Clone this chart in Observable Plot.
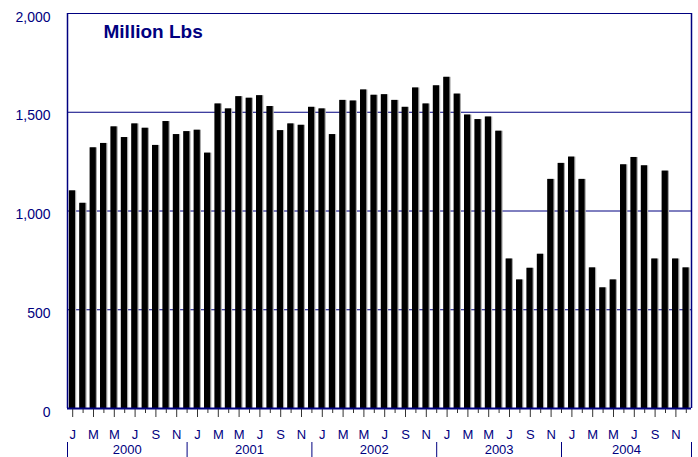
<!DOCTYPE html>
<html><head><meta charset="utf-8">
<script src="https://cdn.jsdelivr.net/npm/d3@7"></script>
<script src="https://cdn.jsdelivr.net/npm/@observablehq/plot@0.6"></script>
<style>body{margin:0;background:#fff}</style>
</head><body><div id="chart"></div>
<script>
const years = ["2000","2001","2002","2003","2004"];
const monthLetters = ["J","F","M","A","M","J","J","A","S","O","N","D"];
const values2000 = [1102,1039,1320,1342,1426,1372,1441,1419,1332,1453,1387,1402];
const values2001 = [1409,1293,1542,1517,1579,1571,1584,1529,1407,1441,1434,1525];
const values2002 = [1517,1387,1560,1557,1613,1586,1589,1560,1525,1623,1542,1634];
const values2003 = [1677,1592,1486,1463,1476,1404,757,651,710,781,1160,1241];
const values2004 = [1273,1160,712,611,651,1234,1271,1229,757,1202,757,712];
const yTicks = [0,500,1000,1500,2000];
const gridValues = [500,1000,1500];
const title = "Million Lbs";

const seriesByYear = [values2000, values2001, values2002, values2003, values2004];
const data = [];
seriesByYear.forEach((vals, yi) => vals.forEach((v, m) => data.push({i: yi*12+m, value: v, month: monthLetters[m], year: years[yi]})));
const n = data.length;
// year separators: outer edges and the centre of each December bar
const seps = [0, ...years.slice(1).map((_, k) => (k+1)*12 - 0.5), n];
const yearLabels = years.map((y, k) => ({year: y, x: (seps[k] + seps[k+1]) / 2}));

const navy = "#000080";
const plotH = 457 - 13 - 49;

const chart = Plot.plot({
  width: 698, height: 457,
  marginLeft: 67, marginRight: 7, marginTop: 13, marginBottom: 49,
  style: {fontFamily: "'Liberation Sans', Arial, sans-serif", background: "#fff"},
  x: {type: "linear", domain: [0, n], axis: null},
  y: {domain: [0, 2000], axis: null},
  marks: [
    Plot.ruleY(gridValues, {stroke: navy, strokeWidth: 1}),
    Plot.rectY(data, {x1: "i", x2: d => d.i + 1, y: "value", fill: "#a8a8a8", insetLeft: 2.4, insetRight: 1.2}),
    Plot.rectY(data, {x1: "i", x2: d => d.i + 1, y: "value", fill: "#000", insetLeft: 1.8, insetRight: 2.4}),
    Plot.ruleY([2000], {stroke: navy, strokeWidth: 1.2}),
    Plot.ruleX([0, n], {y1: 0, y2: 2000, stroke: navy, strokeWidth: 1.5}),
    Plot.ruleY([0], {stroke: navy, strokeWidth: 2}),
    // y tick labels
    Plot.text(yTicks, {x: 0, y: d => d, text: d => d3.format(",")(d), textAnchor: "end", lineAnchor: "bottom", dx: -17, dy: 8, fontSize: 14, fill: navy}),
    // x ticks (long at labeled months, short otherwise)
    Plot.ruleX(data.filter(d => d.i % 2 === 0), {x: d => d.i + 0.5, stroke: "#333", strokeWidth: 1, insetTop: plotH + 1, insetBottom: -9}),
    Plot.ruleX(data.filter(d => d.i % 2 === 1), {x: d => d.i + 0.5, stroke: "#333", strokeWidth: 1, insetTop: plotH + 1, insetBottom: -5}),
    // month labels
    Plot.text(data.filter(d => d.i % 2 === 0), {x: d => d.i + 0.5, y: 0, text: "month", lineAnchor: "bottom", dy: 30, fontSize: 13, fill: navy}),
    // year separators
    Plot.ruleX(seps, {stroke: navy, strokeWidth: 1, insetTop: plotH + 34, insetBottom: -49}),
    // year labels
    Plot.text(yearLabels, {x: "x", y: 0, text: "year", lineAnchor: "bottom", dy: 45, fontSize: 13, fill: navy}),
    // title
    Plot.text([title], {frameAnchor: "top-left", textAnchor: "start", lineAnchor: "bottom", dx: 36, dy: 24.7, fontSize: 19, fontWeight: "bold", fill: navy})
  ]
});
document.getElementById("chart").appendChild(chart);
</script>
</body></html>
